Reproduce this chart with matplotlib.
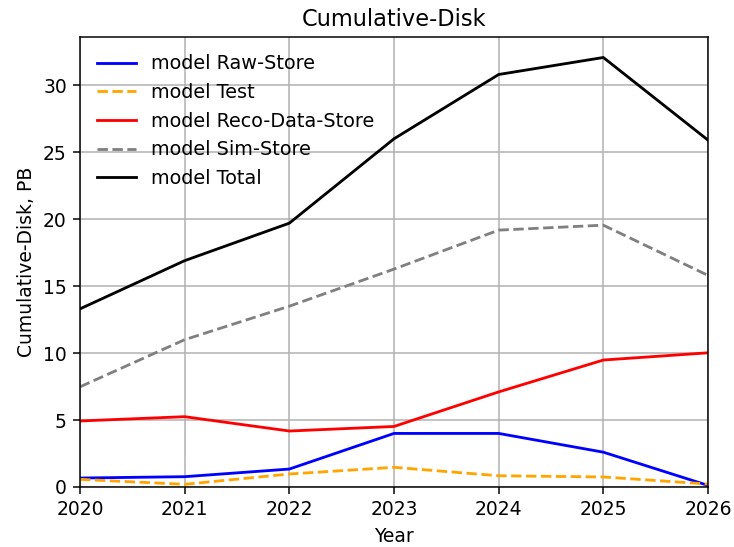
import matplotlib
matplotlib.use("Agg")
import matplotlib.pyplot as plt

years = [2020, 2021, 2022, 2023, 2024, 2025, 2026]
raw_store = [0.67, 0.77, 1.34, 4.0, 4.0, 2.6, 0.12]
test = [0.57, 0.2, 0.97, 1.47, 0.84, 0.75, 0.22]
reco_data_store = [4.93, 5.25, 4.18, 4.52, 7.1, 9.48, 10.02]
sim_store = [7.48, 11.0, 13.5, 16.27, 19.18, 19.55, 15.8]
total = [13.3, 16.9, 19.7, 26.0, 30.8, 32.07, 25.9]

DPI = 135
fig = plt.figure(figsize=(734 / DPI, 547 / DPI), dpi=DPI)
ax = fig.add_axes([80/734, 1-487/547, (708-80)/734, (487-37)/547])

ax.plot(years, raw_store, color="blue", linestyle="-", linewidth=1.5, label="model Raw-Store")
ax.plot(years, test, color="orange", linestyle="--", linewidth=1.5, label="model Test")
ax.plot(years, reco_data_store, color="red", linestyle="-", linewidth=1.5, label="model Reco-Data-Store")
ax.plot(years, sim_store, color="gray", linestyle="--", linewidth=1.5, label="model Sim-Store")
ax.plot(years, total, color="black", linestyle="-", linewidth=1.5, label="model Total")

ax.set_xlim(2020, 2026)
ax.set_ylim(0, 33.6)
ax.grid(True)
ax.set_axisbelow(True)
ax.tick_params(labelsize=10)
ax.set_xlabel("Year", fontsize=10)
ax.set_ylabel("Cumulative-Disk, PB", fontsize=10)
ax.set_title("Cumulative-Disk", fontsize=12)
ax.legend(loc="upper left", frameon=False, fontsize=10.3)

fig.savefig("out.png", dpi=DPI)
